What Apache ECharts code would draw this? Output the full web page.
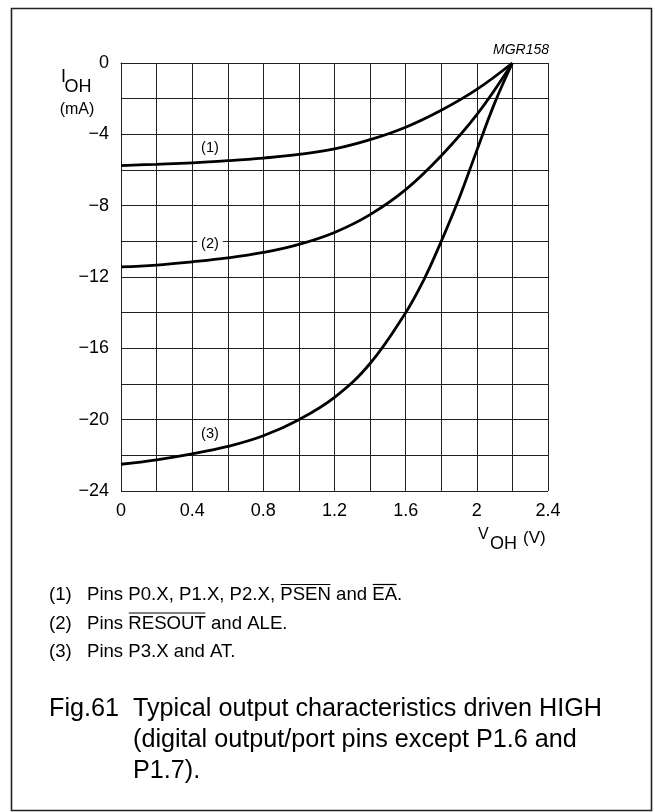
<!DOCTYPE html>
<html><head><meta charset="utf-8">
<script src="https://cdn.jsdelivr.net/npm/echarts@6/dist/echarts.min.js"></script>
<style>html,body{margin:0;padding:0;background:#fff}#c{width:655px;height:812px}</style>
</head><body><div id="c"></div>
<script>
// ---- data ----
const xTickValues = [0, 0.4, 0.8, 1.2, 1.6, 2, 2.4];
const xTickLabels = ['0', '0.4', '0.8', '1.2', '1.6', '2', '2.4'];
const yTickValues = [0, -4, -8, -12, -16, -20, -24];
const yTickLabels = ['0', '\u22124', '\u22128', '\u221212', '\u221216', '\u221220', '\u221224'];

const curve1V = [0, 0.2, 0.4, 0.6, 0.8, 1.0, 1.2, 1.4, 1.6, 1.8, 2.0, 2.2];
const curve1I = [-5.75, -5.68, -5.6, -5.48, -5.33, -5.13, -4.82, -4.3, -3.6, -2.65, -1.48, 0];
const curve2V = [0, 0.2, 0.4, 0.6, 0.8, 1.0, 1.2, 1.4, 1.6, 1.8, 2.0, 2.2];
const curve2I = [-11.43, -11.33, -11.15, -10.93, -10.62, -10.17, -9.5, -8.5, -7.1, -5.2, -2.9, 0];
const curve3V = [0, 0.2, 0.4, 0.6, 0.8, 1.0, 1.2, 1.4, 1.6, 1.7, 1.8, 1.9, 2.0, 2.1, 2.2];
const curve3I = [-22.5, -22.25, -21.92, -21.5, -20.9, -20.0, -18.75, -16.85, -14.0, -12.2, -10.0, -7.6, -4.9, -2.25, 0];

const curveLabels = ['(1)', '(2)', '(3)'];
const curveLabelV = [0.5, 0.5, 0.5];
const curveLabelI = [-4.75, -10.15, -20.8];

const noteNums = ['(1)', '(2)', '(3)'];
const noteTexts = ['Pins P0.X, P1.X, P2.X, PSEN and EA.', 'Pins RESOUT and ALE.', 'Pins P3.X and AT.'];
const noteOverlined = [['PSEN', 'EA'], ['RESOUT'], []];
const captionLabel = 'Fig.61';
const captionLines = ['Typical output characteristics driven HIGH', '(digital output/port pins except P1.6 and', 'P1.7).'];

// ---- helpers ----
const FONT = '"Liberation Sans", Arial, Helvetica, sans-serif';
const zip = (a, b) => a.map((v, i) => [v, b[i]]);
const near = (v, arr) => arr.findIndex(t => Math.abs(t - v) < 1e-6);
const mctx = document.createElement('canvas').getContext('2d');
function tw(s, size) { mctx.font = size + 'px "Liberation Sans", Arial, sans-serif'; return mctx.measureText(s).width; }

const chart = echarts.init(document.getElementById('c'), null, { renderer: 'canvas' });

const lineSeries = (d) => ({
  type: 'line', data: d, smooth: 0.4, symbol: 'none', silent: true,
  lineStyle: { color: '#000', width: 2.8 }, z: 5
});

const graphics = [];
// frame
graphics.push({ type: 'rect', shape: { x: 11.5, y: 8.5, width: 640, height: 802 }, style: { fill: 'none', stroke: '#222', lineWidth: 1.6 }, z: -1 });
// y axis title I_OH (mA)
graphics.push({ type: 'text', x: 61, y: 77.5, style: { text: 'I', font: '18px ' + FONT, fill: '#000', textVerticalAlign: 'middle' } });
graphics.push({ type: 'text', x: 64.5, y: 87, style: { text: 'OH', font: '18px ' + FONT, fill: '#000', textVerticalAlign: 'middle' } });
graphics.push({ type: 'text', x: 77, y: 110, style: { text: '(mA)', font: '16px ' + FONT, fill: '#000', textAlign: 'center', textVerticalAlign: 'middle' } });
// x axis title V_OH (V)
graphics.push({ type: 'text', x: 478, y: 535, style: { text: 'V', font: '16px ' + FONT, fill: '#000', textVerticalAlign: 'middle' } });
graphics.push({ type: 'text', x: 490, y: 544, style: { text: 'OH', font: '18px ' + FONT, fill: '#000', textVerticalAlign: 'middle' } });
graphics.push({ type: 'text', x: 523, y: 538, style: { text: '(V)', font: '17px ' + FONT, fill: '#000', textVerticalAlign: 'middle' } });
// MGR158
graphics.push({ type: 'text', x: 549, y: 50, style: { text: 'MGR158', font: 'italic 14px ' + FONT, fill: '#000', textAlign: 'right', textVerticalAlign: 'middle' } });
// footnotes
const noteY = [595, 623.5, 652];
const NOTE_FS = 18.6;
noteTexts.forEach((t, i) => {
  graphics.push({ type: 'text', x: 49, y: noteY[i], style: { text: noteNums[i], font: NOTE_FS + 'px ' + FONT, fill: '#000', textVerticalAlign: 'middle' } });
  graphics.push({ type: 'text', x: 87, y: noteY[i], style: { text: t, font: NOTE_FS + 'px ' + FONT, fill: '#000', textVerticalAlign: 'middle' } });
  noteOverlined[i].forEach(w => {
    const idx = t.indexOf(w);
    const x0 = 87 + tw(t.slice(0, idx), NOTE_FS);
    const x1 = x0 + tw(w, NOTE_FS);
    graphics.push({ type: 'line', shape: { x1: x0 + 0.5, y1: noteY[i] - 10.5, x2: x1 - 0.5, y2: noteY[i] - 10.5 }, style: { stroke: '#000', lineWidth: 1.2 } });
  });
});
// caption
const capY = [709, 740, 771];
graphics.push({ type: 'text', x: 49, y: capY[0], style: { text: captionLabel, font: '25.2px ' + FONT, fill: '#000', textVerticalAlign: 'middle' } });
captionLines.forEach((t, i) => {
  graphics.push({ type: 'text', x: 133, y: capY[i], style: { text: t, font: '25.2px ' + FONT, fill: '#000', textVerticalAlign: 'middle' } });
});

const option = {
  backgroundColor: '#fff',
  animation: false,
  grid: { left: 121, top: 63, width: 427, height: 428, containLabel: false },
  xAxis: {
    type: 'value', min: 0, max: 2.4, interval: 0.2,
    axisLine: { show: true, lineStyle: { color: '#222', width: 1 } },
    axisTick: { show: false },
    splitLine: { show: true, lineStyle: { color: '#222', width: 1 } },
    axisLabel: {
      show: true, margin: 11, color: '#000', fontSize: 18, fontFamily: 'Liberation Sans',
      showMinLabel: true, showMaxLabel: true,
      formatter: v => { const k = near(v, xTickValues); return k >= 0 ? xTickLabels[k] : ''; }
    }
  },
  yAxis: {
    type: 'value', min: -24, max: 0, interval: 2,
    axisLine: { show: true, lineStyle: { color: '#222', width: 1 } },
    axisTick: { show: false },
    splitLine: { show: true, lineStyle: { color: '#222', width: 1 } },
    axisLabel: {
      show: true, margin: 12, color: '#000', fontSize: 18, fontFamily: 'Liberation Sans',
      padding: [6, 0, 0, 0],
      showMinLabel: true, showMaxLabel: true,
      formatter: v => { const k = near(v, yTickValues); return k >= 0 ? yTickLabels[k] : ''; }
    }
  },
  series: [
    lineSeries(zip(curve1V, curve1I)),
    lineSeries(zip(curve2V, curve2I)),
    lineSeries(zip(curve3V, curve3I)),
    {
      type: 'scatter', symbolSize: 0, silent: true, z: 6,
      itemStyle: { color: '#000', opacity: 1 },
      data: curveLabels.map((n, i) => ({
        name: n, value: [curveLabelV[i], curveLabelI[i]],
        label: i === 1 ? { backgroundColor: '#fff', padding: [1, 4] } : {}
      })),
      label: { show: true, position: 'inside', formatter: '{b}', color: '#000', opacity: 1, textBorderWidth: 0, fontSize: 14.5, fontFamily: 'Liberation Sans' }
    }
  ],
  graphic: graphics
};
chart.setOption(option);
</script>
</body></html>
